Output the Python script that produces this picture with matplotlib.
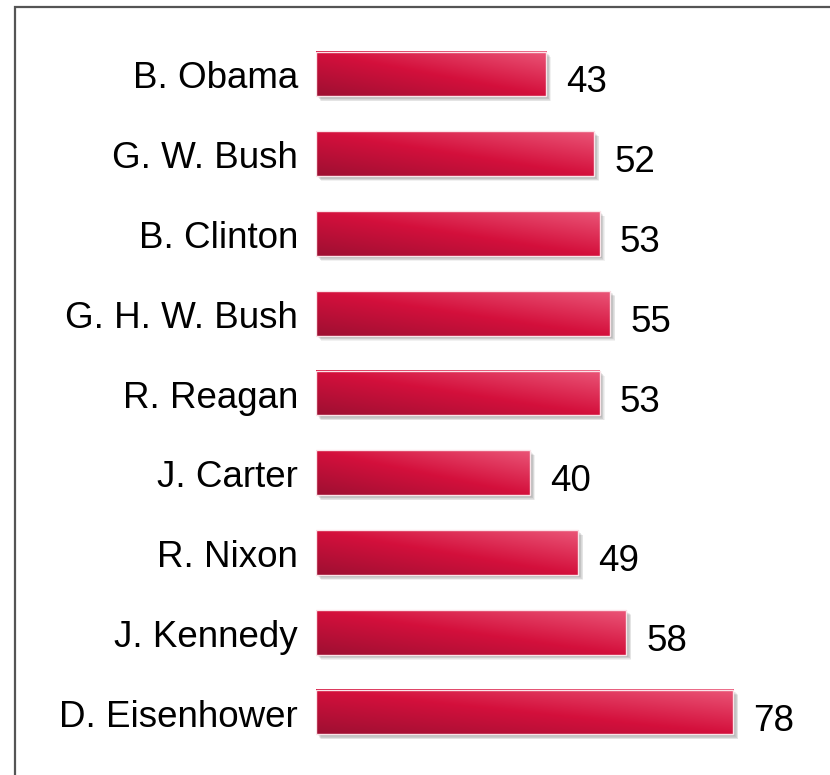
import numpy as np
import matplotlib
matplotlib.use("Agg")
import matplotlib.pyplot as plt
from matplotlib.colors import LinearSegmentedColormap
from matplotlib.patches import Rectangle
from matplotlib.transforms import offset_copy

presidents = ["B. Obama", "G. W. Bush", "B. Clinton", "G. H. W. Bush", "R. Reagan",
              "J. Carter", "R. Nixon", "J. Kennedy", "D. Eisenhower"]
values = [43, 52, 53, 55, 53, 40, 49, 58, 78]

plt.rcParams["font.family"] = ["Liberation Sans", "DejaVu Sans"]

W, H = 830, 775
fig = plt.figure(figsize=(W / 100, H / 100), dpi=100)

# frame (only left/top visible, the rest runs off the picture)
fig.patches.append(Rectangle((15 / W, -0.1), 1.2, 1 - 7 / H + 0.1, transform=fig.transFigure,
                             fill=False, edgecolor="#555555", linewidth=1.6))

ax = fig.add_axes([316 / W, 1 - 752 / H, 96 * 5.35 / W, 718 / H])
ax.set_axis_off()

cmap = LinearSegmentedColormap.from_list("bar", ["#9e0f32", "#d4103c", "#ea5577"])
nx, ny = 200, 40
u = np.linspace(0, 1, nx)[None, :]
# row 0 is the top of the bar -> lighter top, lighter right
grad = np.clip(0.5 * u + 0.5 * np.linspace(1, 0, ny)[:, None], 0, 1)

h = 0.56
for i, (name, val) in enumerate(zip(presidents, values)):
    # soft shadow
    for k in range(6):
        tr = offset_copy(ax.transData, fig=fig, x=2 + k * 0.6, y=-(2 + k * 0.6), units="dots")
        ax.add_patch(Rectangle((0, i - h / 2), val, h, transform=tr,
                               facecolor="#444444", alpha=0.07, edgecolor="none", zorder=1))
    ax.imshow(grad, cmap=cmap, extent=(0, val, i + h / 2, i - h / 2),
              aspect="auto", interpolation="bilinear", zorder=2, vmin=0, vmax=1)
    ax.add_patch(Rectangle((0, i - h / 2), val, h, facecolor="none",
                           edgecolor="#fbe3e8", linewidth=1.0, zorder=3))
    tr = offset_copy(ax.transData, fig=fig, x=20, y=-9, units="dots")
    ax.text(val, i, str(val), transform=tr, fontsize=26.5, ha="left", va="center", zorder=4)
    tr = offset_copy(ax.transData, fig=fig, x=-18, y=-5, units="dots")
    ax.text(0, i, name, transform=tr, fontsize=26.5, ha="right", va="center", zorder=4)

ax.set_xlim(0, 96)
ax.set_ylim(len(values) - 0.5, -0.5)

fig.savefig("out.png", dpi=100)
